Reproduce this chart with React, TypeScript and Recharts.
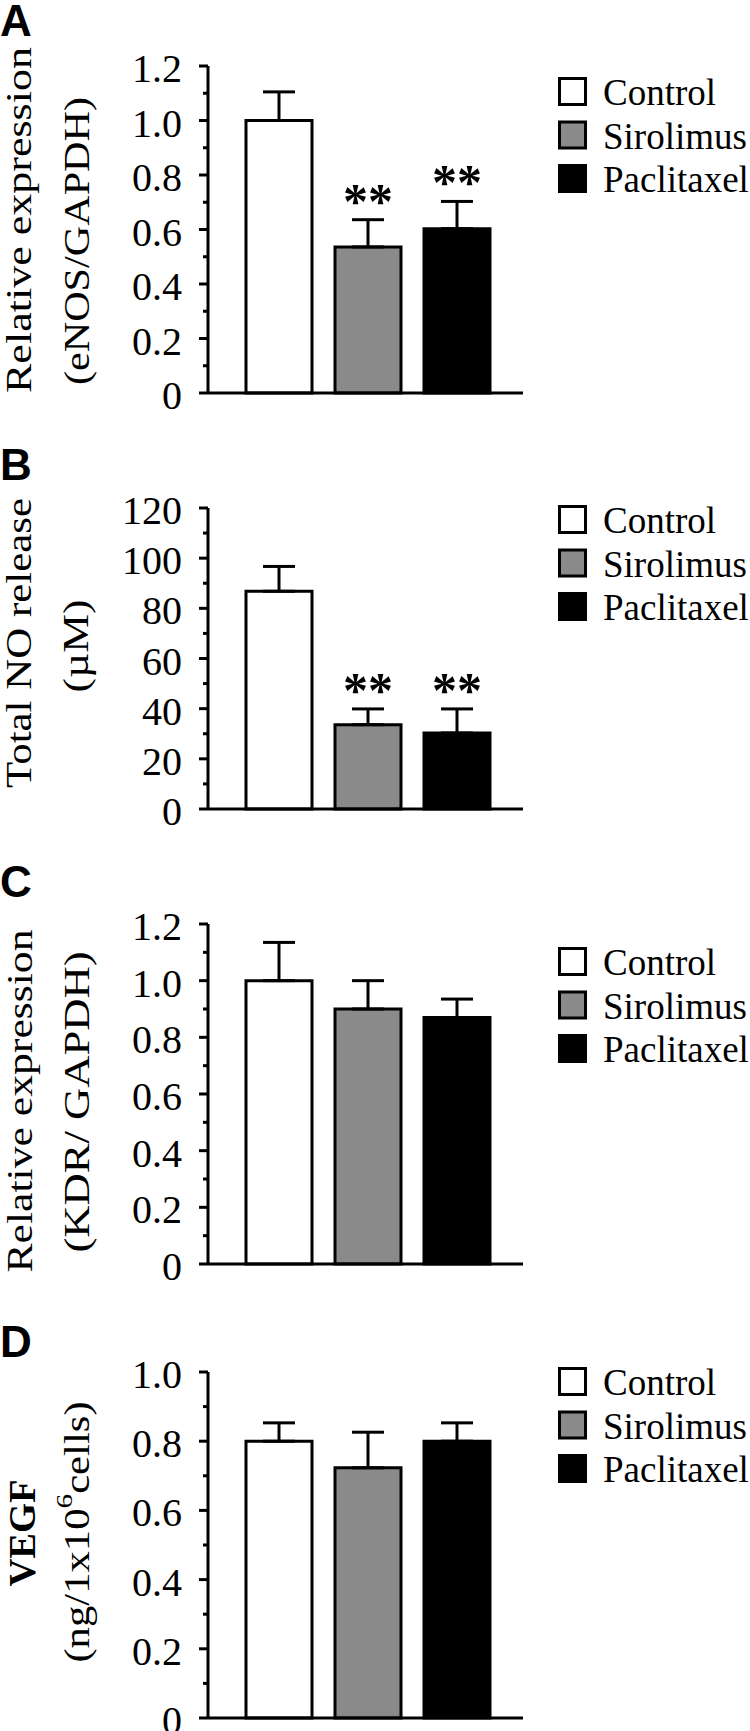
import React from "react";
import { BarChart, Bar, XAxis, YAxis, Cell, ErrorBar, LabelList, Legend } from "recharts";

const groups = ["Control", "Sirolimus", "Paclitaxel"];
const groupFills = ["#ffffff", "#8a8a8a", "#000000"];

// A: eNOS / GAPDH
const enosMean = [1.0, 0.536, 0.603];
const enosSem = [0.105, 0.1, 0.1];
const enosSig = ["", "**", "**"];

// B: total NO release (uM)
const noMean = [86.8, 33.6, 30.3];
const noSem = [9.9, 6.3, 9.6];
const noSig = ["", "**", "**"];

// C: KDR / GAPDH
const kdrMean = [1.0, 0.9, 0.87];
const kdrSem = [0.135, 0.1, 0.065];
const kdrSig = ["", "", ""];

// D: VEGF (ng / 1x10^6 cells)
const vegfMean = [0.8, 0.723, 0.8];
const vegfSem = [0.053, 0.103, 0.053];
const vegfSig = ["", "", ""];

const ratioTicks = [0, 0.1, 0.2, 0.3, 0.4, 0.5, 0.6, 0.7, 0.8, 0.9, 1.0, 1.1, 1.2];
const ratioMajor = [0, 0.2, 0.4, 0.6, 0.8, 1.0, 1.2];
const noTicks = [0, 10, 20, 30, 40, 50, 60, 70, 80, 90, 100, 110, 120];
const noMajor = [0, 20, 40, 60, 80, 100, 120];
const vegfTicks = [0, 0.1, 0.2, 0.3, 0.4, 0.5, 0.6, 0.7, 0.8, 0.9, 1.0];
const vegfMajor = [0, 0.2, 0.4, 0.6, 0.8, 1.0];

const FONT = "'Liberation Serif', 'Times New Roman', serif";
const SANS = "'Liberation Sans', Arial, sans-serif";
const TICK_SIZE = 9;
const TICK_MARGIN = 17;
const AXIS_W = 208;
const PLOT_RIGHT = 523;
const W = 750;
const LEG_PAD = 8;

const makeRows = (mean: number[], sem: number[], sig: string[]) =>
  groups.map((g, i) => ({ name: g, value: mean[i], err: [0, sem[i]], sig: sig[i] }));

const fmtTick = (v: number, max: number) => (v === 0 ? "0" : max >= 10 ? String(v) : v.toFixed(1));

function YTick(props: any) {
  const { x, y, payload, major, max } = props;
  const axisX = x + TICK_SIZE + TICK_MARGIN;
  const isMajor = major.includes(payload.value);
  return (
    <g>
      <line x1={axisX - (isMajor ? TICK_SIZE : 5)} x2={axisX} y1={y} y2={y} stroke="#000" strokeWidth={3} />
      {isMajor && (
        <text x={x} y={y + 2} dy="0.35em" textAnchor="end" fontFamily={FONT} fontSize={40} fill="#000">
          {fmtTick(payload.value, max)}
        </text>
      )}
    </g>
  );
}

const starLabel = (rows: any[]) => (p: any) => {
  const row = rows[p.index];
  if (!row || !row.sig) return null;
  const vb = p.viewBox || p;
  const x = Number(vb.x ?? p.x);
  const y = Number(vb.y ?? p.y);
  const w = Number(vb.width ?? p.width);
  const h = Number(vb.height ?? p.height);
  const perUnit = h / row.value;
  const errTop = y - row.err[1] * perUnit;
  return (
    <text x={x + w / 2} y={errTop - 2} textAnchor="middle" fontFamily={FONT} fontWeight="bold" fontSize={50} fill="#000">
      {row.sig}
    </text>
  );
};

const legendContent = () => (
  <svg width={195} height={150}>
    {groups.map((g, i) => (
      <g key={g}>
        <rect
          x={4.5}
          y={LEG_PAD + 1.5 + i * 43.5}
          width={26}
          height={26}
          fill={groupFills[i]}
          stroke="#000"
          strokeWidth={3}
        />
        <text x={48} y={LEG_PAD + 28 + i * 43.5} fontFamily={FONT} fontSize={37} fill="#000">
          {g}
        </text>
      </g>
    ))}
  </svg>
);

type Line = { text?: string; x: number; cy: number; len?: number; bold?: boolean; size?: number; node?: React.ReactNode };

function Panel(props: {
  top: number;
  height: number;
  mTop: number;
  mBottom: number;
  rows: any[];
  max: number;
  ticks: number[];
  major: number[];
  letter: string;
  letterY: number;
  lines: Line[];
  legendTop: number;
}) {
  const { top, height, mTop, mBottom, rows, max, ticks, major, letter, letterY, lines, legendTop } = props;
  const axisLabel = () => (
    <g>
      <text x={0} y={letterY - top} fontFamily={SANS} fontWeight="bold" fontSize={44} fill="#000">
        {letter}
      </text>
      {lines.map((l, i) =>
        l.node ? (
          <g key={i} transform={`translate(${l.x},${l.cy - top}) rotate(-90)`}>
            {l.node}
          </g>
        ) : (
          <text
            key={i}
            transform={`translate(${l.x},${l.cy - top}) rotate(-90)`}
            textAnchor="middle"
            fontFamily={FONT}
            fontWeight={l.bold ? "bold" : "normal"}
            fontSize={l.size ?? 35}
            textLength={l.len}
            lengthAdjust="spacingAndGlyphs"
            fill="#000"
          >
            {l.text}
          </text>
        )
      )}
    </g>
  );
  return (
    <div style={{ position: "absolute", left: 0, top }}>
      <BarChart width={W} height={height} data={rows} margin={{ top: mTop, right: W - PLOT_RIGHT, bottom: mBottom, left: 0 }}>
        <XAxis
          dataKey="name"
          height={1}
          tick={false}
          tickLine={false}
          axisLine={{ stroke: "#000", strokeWidth: 3 }}
          padding={{ left: 26, right: 22 }}
        />
        <YAxis
          width={AXIS_W}
          domain={[0, max]}
          ticks={ticks}
          interval={0}
          tickSize={TICK_SIZE}
          tickMargin={TICK_MARGIN}
          tickLine={false}
          axisLine={{ stroke: "#000", strokeWidth: 3 }}
          tick={(p: any) => <YTick {...p} major={major} max={max} />}
          label={axisLabel}
        />
        <Legend
          content={legendContent}
          layout="vertical"
          align="center"
          verticalAlign="middle"
          wrapperStyle={{ left: 555, top: legendTop - top - LEG_PAD, width: 195, height: 150 }}
        />
        <Bar dataKey="value" barSize={66} stroke="#000" strokeWidth={3} isAnimationActive={false}>
          {rows.map((r, i) => (
            <Cell key={r.name} fill={groupFills[i]} />
          ))}
          <ErrorBar dataKey="err" direction="y" width={16} stroke="#000" strokeWidth={3} isAnimationActive={false} />
          <LabelList dataKey="sig" content={starLabel(rows)} />
        </Bar>
      </BarChart>
    </div>
  );
}

export default function App() {
  return (
    <div style={{ position: "absolute", left: 0, top: 0, width: W, height: 1731, background: "#fff" }}>
      <Panel
        top={0}
        height={420}
        mTop={66}
        mBottom={26}
        rows={makeRows(enosMean, enosSem, enosSig)}
        max={1.2}
        ticks={ratioTicks}
        major={ratioMajor}
        letter="A"
        letterY={36}
        lines={[
          { text: "Relative expression", x: 31, cy: 220, len: 346 },
          { text: "(eNOS/GAPDH)", x: 89, cy: 241, len: 288 },
        ]}
        legendTop={77}
      />
      <Panel
        top={420}
        height={420}
        mTop={88}
        mBottom={30}
        rows={makeRows(noMean, noSem, noSig)}
        max={120}
        ticks={noTicks}
        major={noMajor}
        letter="B"
        letterY={480}
        lines={[
          { text: "Total NO release", x: 31, cy: 643, len: 290 },
          { text: "(\u00b5M)", x: 88, cy: 646, len: 93 },
        ]}
        legendTop={505}
      />
      <Panel
        top={840}
        height={450}
        mTop={84}
        mBottom={25}
        rows={makeRows(kdrMean, kdrSem, kdrSig)}
        max={1.2}
        ticks={ratioTicks}
        major={ratioMajor}
        letter="C"
        letterY={897}
        lines={[
          { text: "Relative expression", x: 32, cy: 1101, len: 343 },
          { text: "(KDR/ GAPDH)", x: 89, cy: 1102, len: 301 },
        ]}
        legendTop={947}
      />
      <Panel
        top={1290}
        height={441}
        mTop={82}
        mBottom={12}
        rows={makeRows(vegfMean, vegfSem, vegfSig)}
        max={1.0}
        ticks={vegfTicks}
        major={vegfMajor}
        letter="D"
        letterY={1357}
        lines={[
          { text: "VEGF", x: 35, cy: 1533, len: 107, bold: true, size: 38 },
          {
            x: 89,
            cy: 1532,
            node: (
              <text textAnchor="middle" fontFamily={FONT} fontSize={35} fill="#000" transform="scale(1.22,1)">
                (ng/1x10
                <tspan dy={-17} fontSize={24}>
                  6
                </tspan>
                <tspan dy={17}>cells)</tspan>
              </text>
            ),
          },
        ]}
        legendTop={1367}
      />
    </div>
  );
}
